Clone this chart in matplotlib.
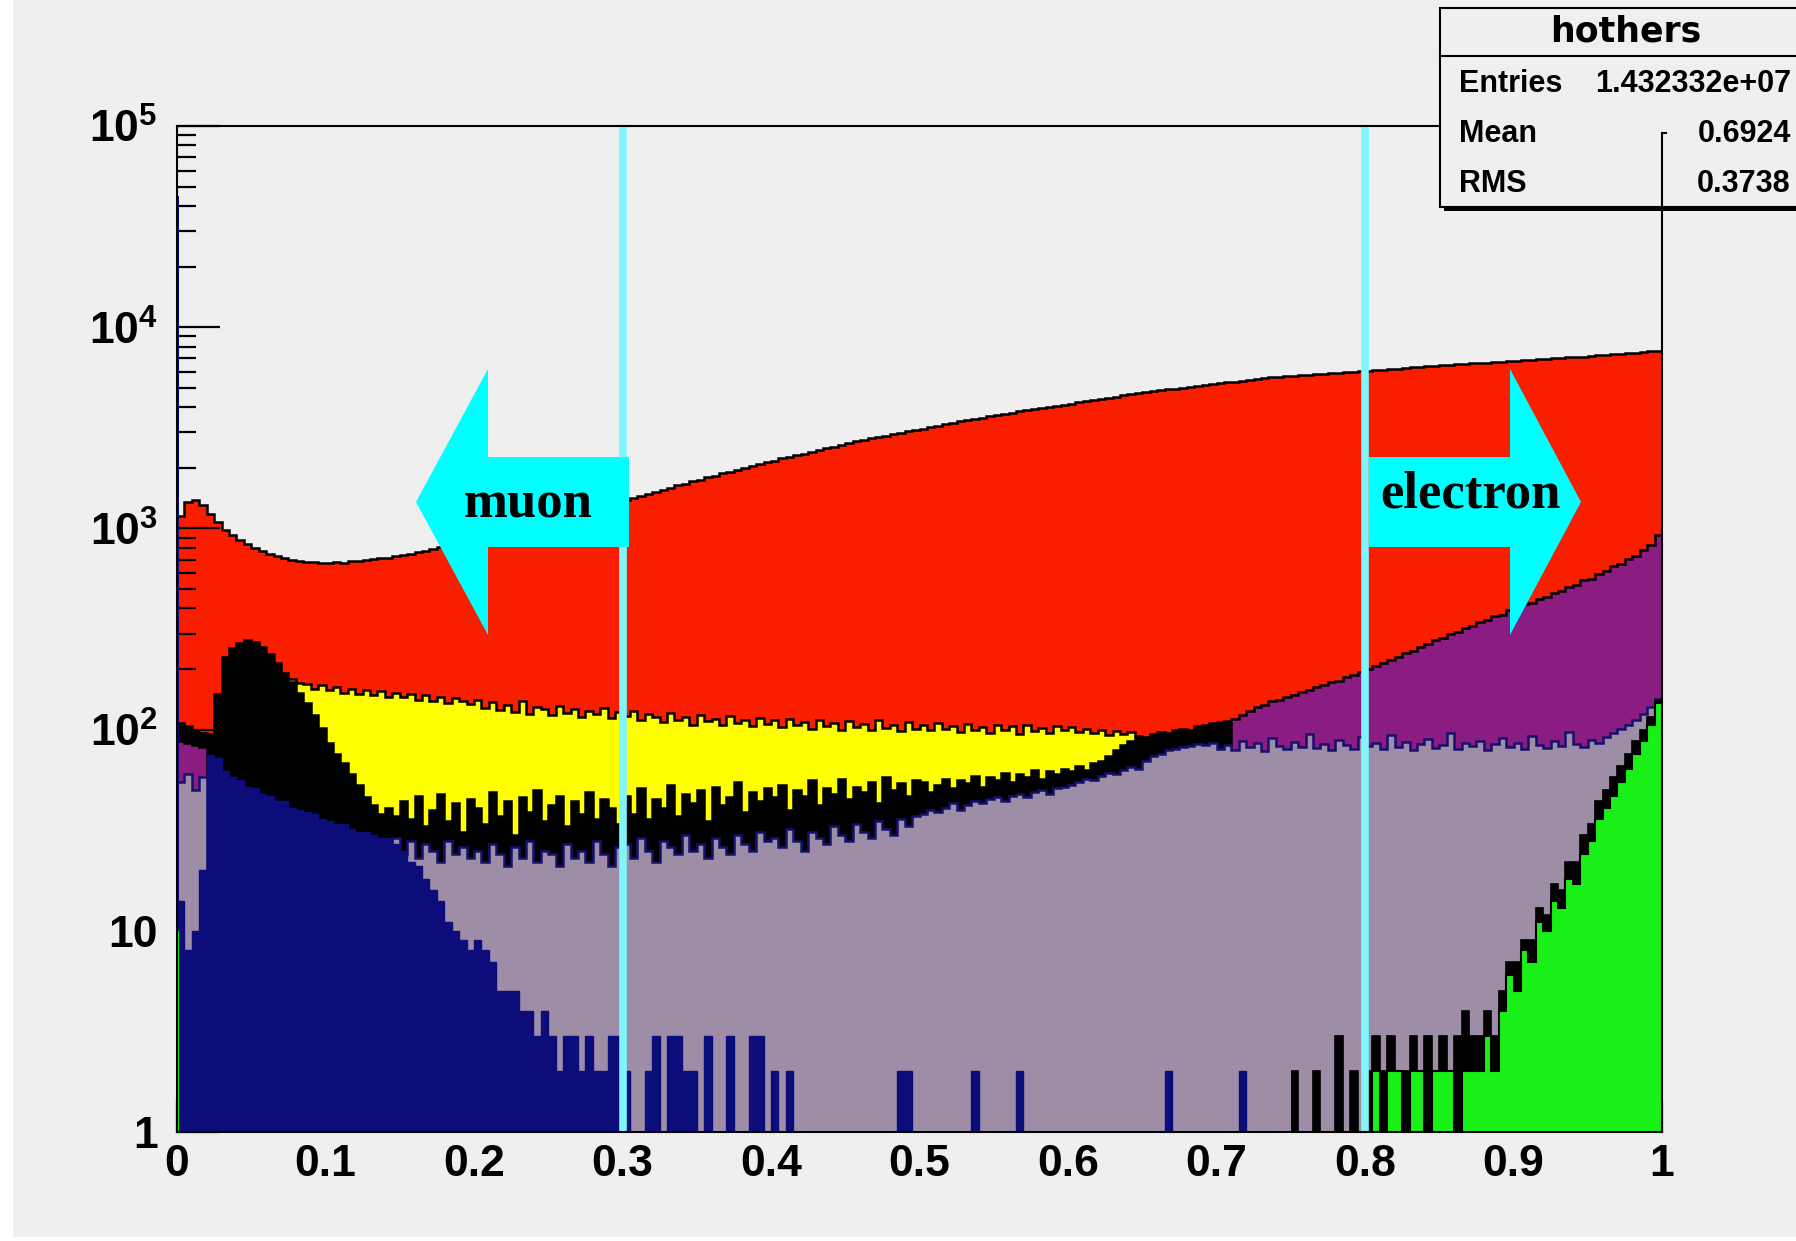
import numpy as np
import matplotlib
matplotlib.use("Agg")
import matplotlib.pyplot as plt
from matplotlib.patches import Rectangle, Polygon
from matplotlib.ticker import FixedLocator, FixedFormatter, LogLocator, NullFormatter, MultipleLocator

# ---------------- data (200 bins of width 0.005 on [0, 1]) ----------------
red_counts = [
    1150, 1350, 1390, 1300, 1180, 1070, 985, 925, 880, 835,
    800, 770, 748, 725, 712, 700, 690, 684, 679, 676,
    672, 680, 674, 688, 690, 698, 703, 712, 716, 728,
    735, 748, 760, 770, 786, 805, 818, 835, 850, 868,
    885, 905, 922, 948, 965, 992, 1012, 1040, 1055, 1085,
    1100, 1135, 1155, 1190, 1205, 1245, 1260, 1300, 1320, 1355,
    1380, 1420, 1445, 1490, 1515, 1560, 1590, 1635, 1665, 1715,
    1745, 1795, 1825, 1875, 1910, 1960, 1995, 2050, 2085, 2140,
    2175, 2230, 2265, 2320, 2355, 2410, 2450, 2510, 2550, 2610,
    2645, 2705, 2740, 2800, 2840, 2895, 2935, 2995, 3035, 3095,
    3135, 3195, 3240, 3300, 3345, 3405, 3450, 3515, 3555, 3620,
    3660, 3720, 3760, 3820, 3860, 3920, 3965, 4025, 4065, 4125,
    4170, 4235, 4285, 4350, 4395, 4465, 4515, 4585, 4635, 4700,
    4745, 4805, 4850, 4910, 4955, 5015, 5055, 5120, 5160, 5225,
    5265, 5325, 5365, 5425, 5465, 5525, 5565, 5625, 5665, 5720,
    5745, 5785, 5805, 5845, 5865, 5905, 5925, 5970, 5995, 6035,
    6065, 6115, 6145, 6200, 6230, 6280, 6310, 6360, 6390, 6440,
    6465, 6510, 6535, 6580, 6605, 6650, 6675, 6715, 6740, 6785,
    6810, 6855, 6880, 6925, 6955, 7000, 7025, 7070, 7095, 7145,
    7180, 7235, 7275, 7330, 7370, 7425, 7465, 7525, 7575, 7640,
]

yellow_counts = [
    80, 80, 80, 80, 80, 80, 150, 150, 150, 150,
    150, 150, 150, 150, 150, 178, 170, 168, 160, 166,
    158, 163, 152, 160, 150, 157, 148, 155, 146, 152,
    145, 151, 140, 148, 138, 146, 136, 143, 139, 134,
    141, 128, 137, 125, 133, 122, 138, 120, 130, 126,
    118, 131, 121, 127, 116, 124, 119, 128, 114, 122,
    117, 124, 112, 120, 115, 109, 121, 111, 116, 106,
    118, 110, 113, 105, 117, 108, 112, 104, 114, 107,
    111, 103, 113, 106, 109, 101, 112, 104, 108, 99,
    110, 103, 107, 100, 111, 102, 106, 98, 109, 101,
    105, 99, 108, 101, 104, 97, 107, 100, 103, 96,
    106, 99, 104, 95, 105, 98, 102, 96, 104, 99,
    103, 97, 101, 96, 100, 94, 98, 95, 97, 93,
    50, 50, 50, 50, 50, 50, 50, 50, 50, 50,
    50, 50, 50, 50, 50, 50, 50, 50, 50, 50,
    50, 50, 50, 50, 50, 50, 50, 50, 50, 50,
    50, 50, 50, 50, 50, 50, 50, 50, 50, 50,
    50, 50, 50, 50, 50, 50, 50, 50, 50, 50,
    50, 50, 50, 50, 50, 50, 50, 50, 50, 50,
    50, 50, 50, 50, 50, 50, 50, 50, 50, 50,
]

black_counts = [
    108, 104, 100, 96, 95, 150, 230, 255, 268, 280,
    272, 258, 238, 215, 192, 172, 152, 136, 118, 102,
    86, 76, 68, 60, 53, 46, 42, 38, 41, 37,
    44, 36, 47, 33, 40, 48, 35, 43, 31, 45,
    41, 34, 49, 37, 44, 30, 46, 39, 50, 35,
    42, 47, 33, 44, 38, 49, 36, 45, 41, 34,
    47, 38, 51, 36, 45, 41, 53, 37, 48, 43,
    50, 35, 52, 42, 46, 55, 39, 49, 44, 51,
    46, 53, 40, 50, 47, 56, 42, 51, 48, 57,
    45, 52, 49, 55, 43, 58, 50, 54, 47, 56,
    55, 49, 53, 57, 51, 56, 54, 59, 52, 58,
    56, 61, 55, 60, 58, 63, 57, 62, 60, 64,
    62, 66, 63, 68, 70, 74, 79, 84, 88, 92,
    92, 95, 97, 96, 99, 101, 100, 104, 106, 108,
    109, 110, 100, 95, 80, 72, 60, 50, 40, 30,
    2, 0, 0, 2, 0, 1, 3, 0, 2, 0,
    2, 3, 2, 3, 2, 2, 3, 2, 3, 2,
    3, 2, 3, 4, 3, 3, 4, 3, 5, 7,
    7, 9, 9, 13, 12, 17, 16, 22, 22, 30,
    34, 44, 50, 58, 66, 76, 88, 100, 115, 140,
]

purple_counts = [
    88, 86, 84, 82, 20, 20, 20, 20, 20, 20,
    20, 20, 20, 20, 20, 20, 20, 20, 20, 20,
    20, 20, 20, 20, 20, 20, 20, 20, 20, 20,
    20, 20, 20, 20, 20, 20, 20, 20, 20, 20,
    20, 20, 20, 20, 20, 20, 20, 20, 20, 20,
    20, 20, 20, 20, 20, 20, 20, 20, 20, 20,
    20, 20, 20, 20, 20, 20, 20, 20, 20, 20,
    20, 20, 20, 20, 20, 20, 20, 20, 20, 20,
    20, 20, 20, 20, 20, 20, 20, 20, 20, 20,
    20, 20, 20, 20, 20, 20, 20, 20, 20, 20,
    20, 20, 20, 20, 20, 20, 20, 20, 20, 20,
    20, 20, 20, 20, 20, 20, 20, 20, 20, 20,
    45, 45, 45, 45, 45, 45, 45, 45, 45, 45,
    60, 60, 60, 60, 60, 60, 60, 60, 60, 60,
    60, 60, 113, 118, 124, 129, 133, 138, 140, 145,
    148, 154, 157, 163, 166, 172, 175, 182, 186, 194,
    199, 208, 214, 223, 230, 241, 247, 258, 265, 278,
    284, 298, 305, 319, 326, 341, 349, 366, 373, 391,
    399, 419, 428, 448, 457, 480, 490, 514, 525, 552,
    562, 594, 611, 647, 665, 706, 730, 782, 825, 930,
]

grey_counts = [
    55, 60, 50, 58, 20, 20, 20, 20, 20, 20,
    20, 20, 20, 20, 20, 20, 20, 20, 20, 20,
    20, 20, 20, 20, 20, 20, 20, 20, 26, 29,
    24, 28, 23, 27, 25, 22, 28, 24, 26, 23,
    25, 22, 27, 24, 21, 26, 23, 28, 22, 25,
    24, 21, 27, 23, 25, 22, 28, 24, 21, 26,
    27, 23, 29, 25, 22, 28, 26, 24, 30, 25,
    27, 23, 29, 26, 24, 30, 27, 25, 31, 28,
    29, 26, 32, 28, 25, 31, 29, 27, 33, 30,
    28, 34, 31, 29, 35, 32, 30, 36, 33, 37,
    38, 40, 39, 41, 43, 40, 42, 44, 43, 45,
    46, 44, 47, 48, 46, 49, 50, 48, 51, 52,
    53, 55, 57, 56, 59, 61, 60, 63, 65, 64,
    70, 74, 76, 79, 80, 82, 83, 85, 84, 86,
    80, 84, 79, 88, 82, 86, 78, 91, 83, 80,
    87, 82, 95, 81, 85, 79, 89, 84, 80, 92,
    83, 86, 80, 94, 82, 87, 79, 85, 90, 81,
    84, 96, 80, 86, 83, 88, 79, 85, 91, 82,
    86, 80, 93, 84, 81, 88, 83, 97, 85, 82,
    89, 86, 92, 96, 101, 106, 112, 120, 130, 142,
]

navy_counts = [
    14, 8, 10, 20, 75, 72, 62, 58, 56, 52,
    51, 48, 47, 44, 44, 41, 40, 39, 38, 36,
    35, 34, 34, 32, 31, 31, 30, 29, 29, 27,
    25, 22, 21, 18, 16, 14, 11, 10, 9, 8,
    9, 8, 7, 5, 5, 5, 4, 4, 3, 4,
    3, 2, 3, 3, 2, 3, 2, 2, 3, 3,
    2, 0, 0, 2, 3, 0, 3, 3, 2, 2,
    0, 3, 0, 0, 3, 0, 0, 3, 3, 0,
    2, 0, 2, 0, 0, 0, 0, 0, 0, 0,
    0, 0, 0, 0, 0, 0, 0, 2, 2, 0,
    0, 0, 0, 0, 0, 0, 0, 2, 0, 0,
    0, 0, 0, 2, 0, 0, 0, 0, 0, 0,
    0, 0, 0, 0, 0, 0, 0, 0, 0, 0,
    0, 0, 0, 2, 0, 0, 0, 0, 0, 0,
    0, 0, 0, 2, 0, 0, 0, 0, 0, 0,
    0, 0, 0, 0, 0, 0, 0, 0, 0, 0,
    0, 0, 0, 0, 0, 0, 0, 0, 0, 0,
    0, 0, 0, 0, 0, 0, 0, 0, 0, 0,
    0, 0, 0, 0, 0, 0, 0, 0, 0, 0,
    0, 0, 0, 0, 0, 0, 0, 0, 0, 0,
]

green_counts = [
    0, 0, 0, 0, 0, 0, 0, 0, 0, 0,
    0, 0, 0, 0, 0, 0, 0, 0, 0, 0,
    0, 0, 0, 0, 0, 0, 0, 0, 0, 0,
    0, 0, 0, 0, 0, 0, 0, 0, 0, 0,
    0, 0, 0, 0, 0, 0, 0, 0, 0, 0,
    0, 0, 0, 0, 0, 0, 0, 0, 0, 0,
    0, 0, 0, 0, 0, 0, 0, 0, 0, 0,
    0, 0, 0, 0, 0, 0, 0, 0, 0, 0,
    0, 0, 0, 0, 0, 0, 0, 0, 0, 0,
    0, 0, 0, 0, 0, 0, 0, 0, 0, 0,
    0, 0, 0, 0, 0, 0, 0, 0, 0, 0,
    0, 0, 0, 0, 0, 0, 0, 0, 0, 0,
    0, 0, 0, 0, 0, 0, 0, 0, 0, 0,
    0, 0, 0, 0, 0, 0, 0, 0, 0, 0,
    0, 0, 0, 0, 0, 0, 0, 0, 0, 0,
    0, 0, 0, 0, 0, 0, 0, 0, 0, 0,
    0, 2, 0, 2, 2, 0, 2, 2, 1, 2,
    2, 2, 0, 2, 2, 2, 3, 2, 4, 6,
    5, 8, 7, 11, 10, 14, 13, 18, 17, 24,
    28, 36, 41, 47, 55, 64, 76, 88, 105, 135,
]

# the x = 0 spike bin
zero_bin_edges = [0.0, 0.0013]
navy_zero_bin = [45000]
green_zero_bin = [10]

# first bin from which the black histogram shows through the hatched one
black_showthrough_bin = 150

x_ticks = [0, 0.1, 0.2, 0.3, 0.4, 0.5, 0.6, 0.7, 0.8, 0.9, 1.0]
x_tick_labels = ["0", "0.1", "0.2", "0.3", "0.4", "0.5", "0.6", "0.7", "0.8", "0.9", "1"]
y_ticks = [1, 10, 100, 1000, 10000, 100000]
y_tick_labels = ["1", "10", r"$10^{2}$", r"$10^{3}$", r"$10^{4}$", r"$10^{5}$"]
cut_lines = [0.3, 0.8]

stats_title = "hothers"
stats_rows = [("Entries", "1.432332e+07"), ("Mean", "0.6924"), ("RMS", "0.3738")]

# ---------------- styling ----------------
plt.rcParams['font.family'] = ['Liberation Sans', 'DejaVu Sans']
plt.rcParams['font.weight'] = 'bold'
plt.rcParams['mathtext.fontset'] = 'custom'
plt.rcParams['mathtext.rm'] = 'Liberation Sans:bold'
plt.rcParams['mathtext.it'] = 'Liberation Sans:bold'
plt.rcParams['mathtext.bf'] = 'Liberation Sans:bold'

BG = '#efefef'
W, H = 1796, 1241
fig = plt.figure(figsize=(W / 100, H / 100), dpi=100, facecolor=BG)
ax = fig.add_axes([177 / W, 1 - 1132 / H, 1485 / W, 1006 / H])
ax.set_facecolor(BG)
ax.set_yscale('log')
ax.set_xlim(0, 1)
ax.set_ylim(1, 1e5)

edges = np.linspace(0, 1, len(red_counts) + 1)
BASE = 0.5


def draw_hist(vals, bin_edges, face, edge, z, lw=1.8):
    v = np.asarray(vals, dtype=float)
    v = np.where(v > 0, v, BASE)
    ax.stairs(v, bin_edges, fill=True, baseline=BASE, facecolor=face,
              edgecolor='none', linewidth=0, zorder=z)
    if edge is not None:
        ax.stairs(v, bin_edges, baseline=None, color=edge, linewidth=lw, zorder=z + 0.05)


draw_hist(red_counts, edges, '#fa1e00', 'black', 1.0)
draw_hist(yellow_counts, edges, '#ffff00', 'black', 2.0)
draw_hist(black_counts, edges, 'black', 'black', 3.0)
draw_hist(purple_counts, edges, '#8b1c82', 'black', 4.0)
draw_hist(grey_counts, edges, '#9d8da6', '#14106e', 5.0)
k = black_showthrough_bin
draw_hist(black_counts[k:], edges[k:], 'black', 'black', 5.5, lw=1.2)
draw_hist(navy_counts, edges, '#0c0c7a', '#0c0c7a', 6.0, lw=1.0)
draw_hist(navy_zero_bin, zero_bin_edges, '#0c0c7a', None, 6.1)
draw_hist(green_counts, edges, '#19f018', 'black', 7.0, lw=1.5)
draw_hist(green_zero_bin, zero_bin_edges, '#19f018', None, 7.1)

for xc in cut_lines:
    ax.axvline(xc, color='#7ff5fc', lw=5.5, zorder=8)

# axes / ticks
ax.yaxis.set_major_locator(FixedLocator(y_ticks))
ax.yaxis.set_major_formatter(FixedFormatter(y_tick_labels))
ax.yaxis.set_minor_locator(LogLocator(base=10, subs=np.arange(2, 10)))
ax.yaxis.set_minor_formatter(NullFormatter())
ax.xaxis.set_major_locator(FixedLocator(x_ticks))
ax.xaxis.set_major_formatter(FixedFormatter(x_tick_labels))
ax.xaxis.set_minor_locator(MultipleLocator(0.02))

ax.tick_params(axis='y', which='major', direction='in', length=31, width=1.6,
               left=True, right=False, labelsize=32, pad=14, colors='black')
ax.tick_params(axis='y', which='minor', direction='in', length=13.5, width=1.6,
               left=True, right=False)
ax.tick_params(axis='x', which='major', direction='in', length=22, width=1.6,
               bottom=True, top=False, labelsize=32, pad=9)
ax.tick_params(axis='x', which='minor', direction='in', length=11, width=1.2,
               bottom=True, top=False)
for s in ax.spines.values():
    s.set_linewidth(1.5)
    s.set_color('black')
    s.set_zorder(9)

# ---------------- overlay in pixel coordinates ----------------
ov = fig.add_axes([0, 0, 1, 1])
ov.set_xlim(0, W)
ov.set_ylim(H, 0)
ov.axis('off')
ov.set_zorder(10)
ov.patch.set_alpha(0)

# white screenshot border
ov.add_patch(Rectangle((0, 0), 13, H, facecolor='white', edgecolor='none'))
ov.add_patch(Rectangle((0, 1237), W, 6, facecolor='white', edgecolor='none'))

# arrows
cyan = '#00ffff'
muon_arrow = [(416, 502), (488, 369), (488, 457), (629, 457), (629, 547), (488, 547), (488, 635)]
electron_arrow = [(1581, 502), (1510, 369), (1510, 457), (1369, 457), (1369, 547), (1510, 547), (1510, 635)]
ov.add_patch(Polygon(muon_arrow, closed=True, facecolor=cyan, edgecolor='none'))
ov.add_patch(Polygon(electron_arrow, closed=True, facecolor=cyan, edgecolor='none'))
ov.text(528, 517, "muon", family='Liberation Serif', weight='bold', fontsize=38,
        ha='center', va='baseline', color='black')
ov.text(1470, 508, "electron", family='Liberation Serif', weight='bold', fontsize=38,
        ha='center', va='baseline', color='black')

# stats box
ov.add_patch(Rectangle((1444, 12), 400, 199, facecolor='black', edgecolor='none'))
ov.add_patch(Rectangle((1440, 8), 400, 199, facecolor=BG, edgecolor='black', lw=1.5))
ov.plot([1440, 1800], [56, 56], color='black', lw=1.5)
ov.plot([1662, 1662], [133, 211], color='black', lw=1.5)
ov.plot([1662, 1666], [133, 133], color='black', lw=1.5)
ov.text(1626, 32, stats_title, family='DejaVu Sans', weight='bold', fontsize=25,
        ha='center', va='center', color='black')
row_y = [84, 134, 184]
for (name, val), yy in zip(stats_rows, row_y):
    ov.text(1459, yy, name, family='Liberation Sans', weight='bold', fontsize=22,
            ha='left', va='center', color='black')
    ov.text(1791, yy, val, family='Liberation Sans', weight='bold', fontsize=22,
            ha='right', va='center', color='black')

fig.savefig('out.png', dpi=100, facecolor=BG)
